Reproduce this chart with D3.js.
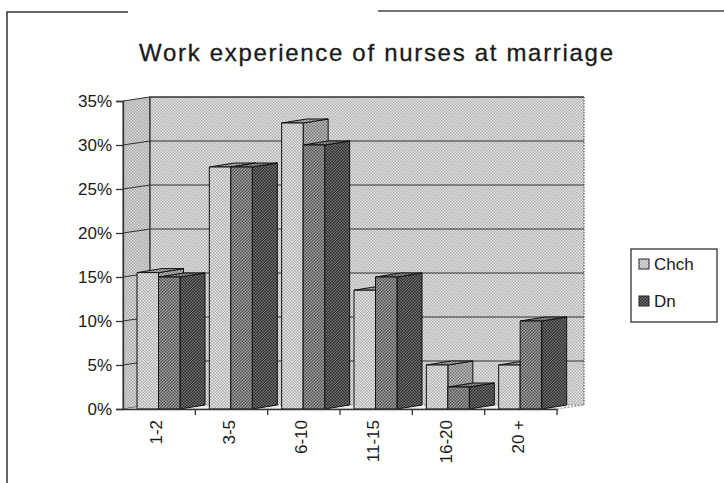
<!DOCTYPE html>
<html lang="en">
<head>
	<meta charset="UTF-8">
	<script src="https://d3js.org/d3.v7.min.js"></script>
	<title>Work experience of nurses at marriage</title>
	<style type="text/css">
		body { margin: 0; background: #fff; }
		text { font-family: "Liberation Sans", Arial, sans-serif; fill: #1a1a1a; }
	</style>
</head>
<body onload="main()">
	<svg width="724" height="483"></svg>
<script>
	var categories = ["1-2", "3-5", "6-10", "11-15", "16-20", "20 +"];
	var seriesNames = ["Chch", "Dn"];
	var chch = [0.155, 0.275, 0.325, 0.135, 0.05, 0.05];
	var dn = [0.15, 0.275, 0.30, 0.15, 0.025, 0.10];
	var yTicks = [0, 0.05, 0.10, 0.15, 0.20, 0.25, 0.30, 0.35];

	function main() {
		var svg = d3.select("svg");

		// depth of the 3d box and of the bars
		var wallDx = 27, wallDy = -4;
		var barDx = 25, barDy = -4;

		var x = d3.scaleBand().domain(categories).range([123, 557]);
		var y = d3.scaleLinear().domain([0, 0.35]).range([409, 101]);
		var sub = d3.scaleBand().domain(seriesNames).range([14, 57]);

		// halftone-ish fills
		var defs = svg.append("defs");
		function pattern(id, base, dot) {
			var p = defs.append("pattern").attr("id", id)
				.attr("width", 3).attr("height", 3)
				.attr("patternUnits", "userSpaceOnUse");
			p.append("rect").attr("width", 3).attr("height", 3).attr("fill", base);
			p.append("rect").attr("width", 1.5).attr("height", 1.5).attr("fill", dot);
			p.append("rect").attr("x", 1.5).attr("y", 1.5).attr("width", 1.5).attr("height", 1.5).attr("fill", dot);
		}
		pattern("wall", "#e6e6e6", "#b0b0b0");
		pattern("side", "#dcdcdc", "#a6a6a6");
		pattern("chchFront", "#ebebeb", "#a8a8a8");
		pattern("chchSide", "#c0c0c0", "#727272");
		pattern("dnFront", "#a2a2a2", "#505050");
		pattern("dnSide", "#737373", "#2a2a2a");

		// frame (scanned page edges)
		svg.append("path").attr("d", "M7,483V12H128").attr("fill", "none").attr("stroke", "#333").attr("stroke-width", 1.5);
		svg.append("path").attr("d", "M378,11H724").attr("fill", "none").attr("stroke", "#444").attr("stroke-width", 1.5);

		svg.append("text")
			.attr("x", 376).attr("y", 61)
			.attr("text-anchor", "middle")
			.attr("font-size", "24px")
			.attr("stroke", "#1a1a1a").attr("stroke-width", 0.3)
			.attr("textLength", 474).attr("lengthAdjust", "spacing")
			.text("Work experience of nurses at marriage");

		var y0 = y(0), yTop = y(0.35);
		var xl = x.range()[0], xr = x.range()[1];

		// walls and floor
		svg.append("polygon")
			.attr("points", [[xl, y0], [xl, yTop], [xl + wallDx, yTop + wallDy], [xl + wallDx, y0 + wallDy]].join(" "))
			.attr("fill", "url(#side)").attr("stroke", "#333").attr("stroke-width", 1);
		svg.append("rect")
			.attr("x", xl + wallDx).attr("y", yTop + wallDy)
			.attr("width", xr - xl).attr("height", y0 - yTop)
			.attr("fill", "url(#wall)").attr("stroke", "none");
		svg.append("path")
			.attr("d", "M" + (xl + wallDx) + "," + (y0 + wallDy) + "V" + (yTop + wallDy) + "H" + (xr + wallDx))
			.attr("fill", "none").attr("stroke", "#333").attr("stroke-width", 1.3);
		svg.append("path")
			.attr("d", "M" + (xr + wallDx) + "," + (yTop + wallDy) + "V" + (y0 + wallDy))
			.attr("fill", "none").attr("stroke", "#555").attr("stroke-width", 1.2).attr("stroke-dasharray", "1.5,1.5");
		svg.append("polygon")
			.attr("points", [[xl, y0], [xl + wallDx, y0 + wallDy], [xr + wallDx, y0 + wallDy], [xr, y0]].join(" "))
			.attr("fill", "#f2f2f2").attr("stroke", "#777").attr("stroke-width", 0.8).attr("stroke-dasharray", "2,1.5");

		// gridlines across the left wall and the back wall
		var grid = svg.append("g").attr("stroke", "#333").attr("stroke-width", 1.2).attr("fill", "none");
		yTicks.slice(1, -1).forEach(function(t) {
			grid.append("path").attr("d", "M" + xl + "," + y(t) + "L" + (xl + wallDx) + "," + (y(t) + wallDy) + "H" + (xr + wallDx));
		});

		// y axis
		svg.append("g")
			.attr("transform", "translate(" + xl + ",0)")
			.call(d3.axisLeft(y).tickValues(yTicks).tickFormat(d3.format(".0%")).tickSize(7).tickPadding(4))
			.call(function(g) {
				g.select(".domain").attr("stroke", "#333").attr("stroke-width", 1.3);
				g.selectAll(".tick line").attr("stroke", "#333").attr("stroke-width", 1.3);
				g.selectAll("text").attr("font-size", "17px").attr("font-family", "Liberation Sans, Arial, sans-serif").attr("fill", "#1a1a1a");
			});

		// bars
		var bars = svg.append("g").attr("stroke", "#111").attr("stroke-width", 1).attr("stroke-linejoin", "round");
		var data = [];
		categories.forEach(function(c, i) {
			data.push({cat: c, s: "Chch", v: chch[i]});
			data.push({cat: c, s: "Dn", v: dn[i]});
		});
		data.forEach(function(d) {
			var bx = x(d.cat) + sub(d.s), bw = sub.bandwidth(), by = y(d.v);
			var g = bars.append("g");
			var front = d.s === "Chch" ? "url(#chchFront)" : "url(#dnFront)";
			var side = d.s === "Chch" ? "url(#chchSide)" : "url(#dnSide)";
			g.append("polygon")
				.attr("points", [[bx + bw, by], [bx + bw + barDx, by + barDy], [bx + bw + barDx, y0 + barDy], [bx + bw, y0]].join(" "))
				.attr("fill", side);
			g.append("polygon")
				.attr("points", [[bx, by], [bx + barDx, by + barDy], [bx + bw + barDx, by + barDy], [bx + bw, by]].join(" "))
				.attr("fill", d.s === "Chch" ? "url(#chchSide)" : "url(#dnFront)");
			g.append("rect")
				.attr("x", bx).attr("y", by)
				.attr("width", bw).attr("height", y0 - by)
				.attr("fill", front);
		});

		// x axis
		svg.append("g")
			.attr("transform", "translate(0," + y0 + ")")
			.call(d3.axisBottom(x).tickSize(0).tickFormat(""))
			.call(function(g) { g.select(".domain").attr("stroke", "#333").attr("stroke-width", 1.3); });
		var xt = svg.append("g").attr("stroke", "#333").attr("stroke-width", 1.3);
		categories.forEach(function(c) {
			xt.append("line").attr("x1", x(c) + x.bandwidth()).attr("x2", x(c) + x.bandwidth())
				.attr("y1", y0).attr("y2", y0 + 6);
		});
		svg.append("g").selectAll("text")
			.data(categories).enter().append("text")
			.attr("transform", function(d) { return "translate(" + (x(d) + x.bandwidth() / 2 + 3) + "," + (y0 + 11) + ") rotate(-90)"; })
			.attr("text-anchor", "end")
			.attr("font-size", "17px")
			.text(function(d) { return d; });

		// legend
		var lg = svg.append("g").attr("transform", "translate(631,249)");
		lg.append("rect").attr("width", 86).attr("height", 73)
			.attr("fill", "#fff").attr("stroke", "#333").attr("stroke-width", 1.3);
		seriesNames.forEach(function(s, i) {
			lg.append("rect").attr("x", 8).attr("y", 15 + i * 37 - 5).attr("width", 10).attr("height", 10)
				.attr("fill", i === 0 ? "url(#chchFront)" : "url(#dnSide)").attr("stroke", "#222").attr("stroke-width", 1);
			lg.append("text").attr("x", 23).attr("y", 15 + i * 37 + 6)
				.attr("font-size", "17px").text(s);
		});
	}
</script>
</body>
</html>
